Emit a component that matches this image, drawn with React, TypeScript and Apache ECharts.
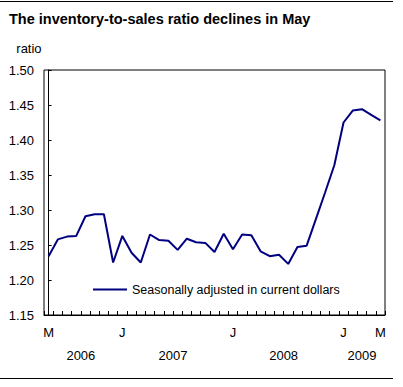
import React, { useEffect, useRef } from "react";
import * as echarts from "echarts";

const months: string[] = [
  "2006-05", "2006-06", "2006-07", "2006-08", "2006-09", "2006-10", "2006-11", "2006-12",
  "2007-01", "2007-02", "2007-03", "2007-04", "2007-05", "2007-06", "2007-07", "2007-08",
  "2007-09", "2007-10", "2007-11", "2007-12",
  "2008-01", "2008-02", "2008-03", "2008-04", "2008-05", "2008-06", "2008-07", "2008-08",
  "2008-09", "2008-10", "2008-11", "2008-12",
  "2009-01", "2009-02", "2009-03", "2009-04", "2009-05",
];

const ratio: number[] = [
  1.234, 1.258, 1.262, 1.263, 1.291, 1.294, 1.294, 1.225,
  1.263, 1.239, 1.225, 1.265, 1.257, 1.256, 1.243, 1.259,
  1.254, 1.253, 1.240, 1.266,
  1.244, 1.265, 1.264, 1.241, 1.234, 1.236, 1.223, 1.247,
  1.249, 1.287, 1.325, 1.364,
  1.425, 1.442, 1.444, 1.436, 1.428,
];

const monthLetters: string[] = ["J", "F", "M", "A", "M", "J", "J", "A", "S", "O", "N", "D"];
const years: string[] = ["2006", "2007", "2008", "2009"];

const title = "The inventory-to-sales ratio declines in May";
const seriesName = "Seasonally adjusted in current dollars";
const yName = "ratio";

const FONT = "'Liberation Sans', Arial, sans-serif";

export default function App() {
  const ref = useRef<HTMLDivElement>(null);

  useEffect(() => {
    document.body.style.margin = "0";
    if (!ref.current) return;
    const chart = echarts.init(ref.current, null, { renderer: "svg" });

    const yearCenters = years.map((y) => {
      const idx = months.map((m, i) => (m.startsWith(y) ? i : -1)).filter((i) => i >= 0);
      return idx.reduce((a, b) => a + b, 0) / idx.length;
    });

    chart.setOption({
      animation: false,
      backgroundColor: "#fff",
      textStyle: { fontFamily: FONT },
      title: {
        text: title,
        left: 4,
        top: 6,
        textStyle: { fontFamily: FONT, fontSize: 14.5, fontWeight: "bold", color: "#000" },
      },
      legend: {
        show: true,
        left: 88,
        top: 278,
        icon: "rect",
        itemWidth: 34,
        itemHeight: 2,
        itemGap: 5,
        textStyle: { fontFamily: FONT, fontSize: 12.5, color: "#000" },
        data: [seriesName],
      },
      grid: {
        left: 44,
        right: 18,
        top: 70,
        bottom: 72,
        show: true,
        borderColor: "#000",
        borderWidth: 1,
        containLabel: false,
      },
      xAxis: [
        {
          type: "category",
          data: months,
          boundaryGap: true,
          axisLine: { show: true, lineStyle: { color: "#000", width: 1 } },
          axisTick: { show: true, inside: true, length: 4, interval: 0, lineStyle: { color: "#000" } },
          axisLabel: {
            interval: (i: number) => i === 0 || i === months.length - 1 || months[i].endsWith("-01"),
            formatter: (v: string) => monthLetters[parseInt(v.slice(5), 10) - 1],
            margin: 11,
            fontFamily: FONT,
            fontSize: 13,
            color: "#000",
          },
          splitLine: { show: false },
        },
        {
          type: "value",
          position: "bottom",
          min: -0.5,
          max: months.length - 0.5,
          axisLine: { show: false },
          axisTick: { show: false },
          splitLine: { show: false },
          axisLabel: {
            customValues: yearCenters,
            formatter: (v: number) => {
              const k = yearCenters.findIndex((c) => Math.abs(c - v) < 1e-6);
              return k >= 0 ? years[k] : "";
            },
            margin: 34,
            fontFamily: FONT,
            fontSize: 13,
            color: "#000",
          },
        },
      ],
      yAxis: {
        type: "value",
        min: 1.15,
        max: 1.5,
        interval: 0.05,
        name: yName,
        nameLocation: "end",
        nameGap: 22,
        nameTextStyle: {
          fontFamily: FONT,
          fontSize: 13,
          color: "#000",
          align: "right",
          verticalAlign: "middle",
          padding: [0, 7, 0, 0],
        },
        axisLine: { show: true, lineStyle: { color: "#000", width: 1 } },
        axisTick: { show: true, inside: true, length: 3, lineStyle: { color: "#000" } },
        axisLabel: {
          formatter: (v: number) => v.toFixed(2),
          margin: 10,
          fontFamily: FONT,
          fontSize: 13,
          color: "#000",
        },
        splitLine: { show: false },
      },
      graphic: [
        { type: "line", shape: { x1: 0, y1: 1.5, x2: 393, y2: 1.5 }, style: { stroke: "#000", lineWidth: 1 } },
        { type: "line", shape: { x1: 0, y1: 378.5, x2: 393, y2: 378.5 }, style: { stroke: "#000", lineWidth: 1 } },
      ],
      series: [
        {
          name: seriesName,
          type: "line",
          data: ratio,
          xAxisIndex: 0,
          symbol: "none",
          lineStyle: { color: "#000080", width: 2 },
          itemStyle: { color: "#000080" },
        },
      ],
    });

    return () => chart.dispose();
  }, []);

  return <div ref={ref} style={{ width: 403, height: 387 }} />;
}
